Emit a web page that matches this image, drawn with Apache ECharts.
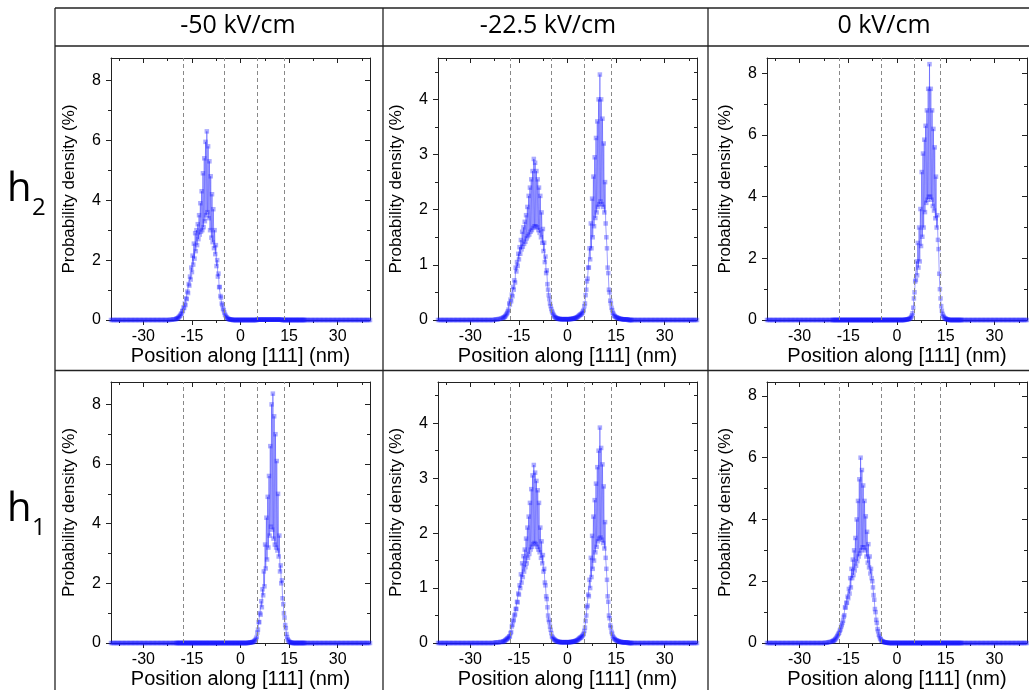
<!DOCTYPE html>
<html><head><meta charset="utf-8">
<script src="https://cdn.jsdelivr.net/npm/echarts@6/dist/echarts.min.js"></script>
<style>html,body{margin:0;padding:0;background:#fff}#c{width:1029px;height:690px}</style>
</head><body><div id="c"></div>
<script>
// Position grid along [111] (nm): 0.4 nm steps in the outer parts, 0.2 nm steps in -20..20
const positions = [
-40,-39.6,-39.2,-38.8,-38.4,-38,-37.6,-37.2,-36.8,-36.4,
-36,-35.6,-35.2,-34.8,-34.4,-34,-33.6,-33.2,-32.8,-32.4,
-32,-31.6,-31.2,-30.8,-30.4,-30,-29.6,-29.2,-28.8,-28.4,
-28,-27.6,-27.2,-26.8,-26.4,-26,-25.6,-25.2,-24.8,-24.4,
-24,-23.6,-23.2,-22.8,-22.4,-22,-21.6,-21.2,-20.8,-20.4,
-20,-19.8,-19.6,-19.4,-19.2,-19,-18.8,-18.6,-18.4,-18.2,
-18,-17.8,-17.6,-17.4,-17.2,-17,-16.8,-16.6,-16.4,-16.2,
-16,-15.8,-15.6,-15.4,-15.2,-15,-14.8,-14.6,-14.4,-14.2,
-14,-13.8,-13.6,-13.4,-13.2,-13,-12.8,-12.6,-12.4,-12.2,
-12,-11.8,-11.6,-11.4,-11.2,-11,-10.8,-10.6,-10.4,-10.2,
-10,-9.8,-9.6,-9.4,-9.2,-9,-8.8,-8.6,-8.4,-8.2,
-8,-7.8,-7.6,-7.4,-7.2,-7,-6.8,-6.6,-6.4,-6.2,
-6,-5.8,-5.6,-5.4,-5.2,-5,-4.8,-4.6,-4.4,-4.2,
-4,-3.8,-3.6,-3.4,-3.2,-3,-2.8,-2.6,-2.4,-2.2,
-2,-1.8,-1.6,-1.4,-1.2,-1,-0.8,-0.6,-0.4,-0.2,
0,0.2,0.4,0.6,0.8,1,1.2,1.4,1.6,1.8,
2,2.2,2.4,2.6,2.8,3,3.2,3.4,3.6,3.8,
4,4.2,4.4,4.6,4.8,5,5.2,5.4,5.6,5.8,
6,6.2,6.4,6.6,6.8,7,7.2,7.4,7.6,7.8,
8,8.2,8.4,8.6,8.8,9,9.2,9.4,9.6,9.8,
10,10.2,10.4,10.6,10.8,11,11.2,11.4,11.6,11.8,
12,12.2,12.4,12.6,12.8,13,13.2,13.4,13.6,13.8,
14,14.2,14.4,14.6,14.8,15,15.2,15.4,15.6,15.8,
16,16.2,16.4,16.6,16.8,17,17.2,17.4,17.6,17.8,
18,18.2,18.4,18.6,18.8,19,19.2,19.4,19.6,19.8,
20,
20.4,20.8,21.2,21.6,22,22.4,22.8,23.2,23.6,24,
24.4,24.8,25.2,25.6,26,26.4,26.8,27.2,27.6,28,
28.4,28.8,29.2,29.6,30,30.4,30.8,31.2,31.6,32,
32.4,32.8,33.2,33.6,34,34.4,34.8,35.2,35.6,36,
36.4,36.8,37.2,37.6,38,38.4,38.8,39.2,39.6,40];

// h2, -50 kV/cm
const h2_m50 = [
0,0,0,0,0,0,0,0,0,0,
0,0,0,0,0,0,0,0,0,0,
0,0,0,0,0,0,0,0,0,0,
0,0,0,0,0,0,0,0,0,0,
0,0,0,0,0,0,0.01,0.01,0.02,0.02,
0.03,0.04,0.05,0.06,0.08,0.1,0.13,0.15,0.2,0.22,
0.3,0.3,0.42,0.4,0.55,0.5,0.72,0.7,0.95,0.9,
1.2,1.15,1.45,1.35,1.75,1.6,2.15,1.85,2.55,2.05,
2.9,2.3,3.0,2.5,3.2,2.7,3.5,2.85,3.9,2.95,
4.3,3.0,4.9,3.1,5.4,3.3,5.95,3.5,6.3,3.6,
5.8,3.4,5.3,3.0,4.8,2.75,4.2,2.6,3.7,2.4,
3.0,2.2,2.5,1.8,2.0,1.45,1.55,1.1,1.1,0.8,
0.75,0.55,0.5,0.38,0.33,0.25,0.18,0.14,0.1,0.08,
0.05,0.04,0.03,0.02,0.02,0.01,0.01,0.01,0,0,
0,0,0,0,0,0,0,0,0,0,
0,0,0,0,0,0,0,0,0,0,
0,0,0,0,0,0,0,0,0,0,
0,0,0,0,0,0,0.01,0.01,0.01,0.01,
0.01,0.01,0.01,0.01,0.01,0.01,0.01,0.01,0.01,0.01,
0.01,0.01,0.01,0.01,0.01,0.01,0.01,0.01,0.01,0.01,
0.01,0.01,0.01,0.01,0.01,0.01,0.01,0.01,0.01,0.01,
0.01,0.01,0.01,0.01,0,0,0,0,0,0,
0,0,0,0,0,0,0,0,0,0,
0,0,0,0,0,0,0,0,0,0,
0,0,0,0,0,0,0,0,0,0,
0,
0,0,0,0,0,0,0,0,0,0,
0,0,0,0,0,0,0,0,0,0,
0,0,0,0,0,0,0,0,0,0,
0,0,0,0,0,0,0,0,0,0,
0,0,0,0,0,0,0,0,0,0];

// h2, -22.5 kV/cm
const h2_m22 = [
0,0,0,0,0,0,0,0,0,0,
0,0,0,0,0,0,0,0,0,0,
0,0,0,0,0,0,0,0,0,0,
0,0,0,0,0,0,0,0,0,0,
0,0,0,0,0.01,0.01,0.01,0.02,0.02,0.03,
0.04,0.04,0.05,0.06,0.07,0.09,0.11,0.13,0.16,0.19,
0.3,0.28,0.37,0.34,0.46,0.43,0.6,0.55,0.72,0.68,
0.95,0.88,1.05,0.98,1.2,1.1,1.32,1.2,1.45,1.28,
1.6,1.33,1.68,1.38,1.78,1.42,1.9,1.48,2.05,1.52,
2.25,1.55,2.4,1.6,2.55,1.63,2.7,1.67,2.92,1.7,
2.85,1.7,2.7,1.68,2.55,1.63,2.4,1.58,2.25,1.5,
1.95,1.4,1.65,1.25,1.4,1.05,1.15,0.85,0.9,0.65,
0.55,0.45,0.38,0.3,0.25,0.2,0.16,0.13,0.1,0.08,
0.06,0.05,0.04,0.035,0.03,0.025,0.02,0.02,0.018,0.016,
0.015,0.015,0.015,0.015,0.015,0.015,0.015,0.015,0.015,0.015,
0.015,0.015,0.015,0.015,0.016,0.018,0.02,0.02,0.022,0.025,
0.028,0.03,0.035,0.04,0.045,0.05,0.06,0.07,0.08,0.09,
0.1,0.1,0.12,0.13,0.16,0.18,0.25,0.3,0.45,0.55,
0.7,0.75,0.95,0.95,1.3,1.1,1.75,1.3,2.2,1.5,
2.6,1.7,2.95,1.85,3.3,1.95,3.6,2.05,4.0,2.1,
4.45,2.15,4.0,2.1,3.65,2.05,3.2,1.95,2.5,1.75,
1.5,1.3,0.95,0.85,0.55,0.5,0.35,0.3,0.22,0.18,
0.13,0.11,0.08,0.07,0.06,0.05,0.045,0.04,0.035,0.03,
0.025,0.02,0.02,0.018,0.015,0.015,0.012,0.01,0.01,0.01,
0.01,0.01,0.01,0.01,0,0,0,0,0,0,
0,
0,0,0,0,0,0,0,0,0,0,
0,0,0,0,0,0,0,0,0,0,
0,0,0,0,0,0,0,0,0,0,
0,0,0,0,0,0,0,0,0,0,
0,0,0,0,0,0,0,0,0,0];

// h2, 0 kV/cm
const h2_0 = [
0,0,0,0,0,0,0,0,0,0,
0,0,0,0,0,0,0,0,0,0,
0,0,0,0,0,0,0,0,0,0,
0,0,0,0,0,0,0,0,0,0,
0,0,0,0,0,0,0,0,0,0,
0,0,0,0,0,0,0,0,0,0,
0,0,0,0,0,0,0,0,0,0,
0,0,0,0,0,0,0,0,0,0,
0,0,0,0,0,0,0,0,0,0,
0,0,0,0,0,0,0,0,0,0,
0,0,0,0,0,0,0,0,0,0,
0,0,0,0,0,0,0,0,0,0,
0,0,0,0,0,0,0,0,0,0,
0,0,0,0,0,0,0,0,0,0,
0,0,0,0,0,0,0,0,0,0,
0,0,0,0,0,0,0,0,0,0,
0,0,0.005,0.01,0.01,0.015,0.02,0.025,0.03,0.04,
0.05,0.07,0.1,0.15,0.22,0.4,0.7,0.9,1.25,1.3,
1.9,1.45,2.5,1.7,3.0,1.9,3.6,2.4,4.8,2.7,
5.4,3.0,5.85,3.5,6.3,3.8,6.8,3.9,7.5,4.0,
8.3,4.0,7.5,3.9,6.8,3.7,6.2,3.55,5.6,3.3,
4.65,3.0,3.4,2.6,2.3,1.5,1.0,0.7,0.45,0.3,
0.2,0.14,0.1,0.07,0.05,0.04,0.03,0.02,0.015,0.01,
0,0,0,0,0,0,0,0,0,0,
0,0,0,0,0,0,0,0,0,0,
0,
0,0,0,0,0,0,0,0,0,0,
0,0,0,0,0,0,0,0,0,0,
0,0,0,0,0,0,0,0,0,0,
0,0,0,0,0,0,0,0,0,0,
0,0,0,0,0,0,0,0,0,0];

// h1, -50 kV/cm
const h1_m50 = [
0,0,0,0,0,0,0,0,0,0,
0,0,0,0,0,0,0,0,0,0,
0,0,0,0,0,0,0,0,0,0,
0,0,0,0,0,0,0,0,0,0,
0,0,0,0,0,0,0,0,0,0,
0,0,0,0,0,0,0,0,0,0,
0,0,0,0,0,0,0,0,0,0,
0,0,0,0,0,0,0,0,0,0,
0,0,0,0,0,0,0,0,0,0,
0,0,0,0,0,0,0,0,0,0,
0,0,0,0,0,0,0,0,0,0,
0,0,0,0,0,0,0,0,0,0,
0,0,0,0,0,0,0,0,0,0,
0,0,0,0,0,0,0,0,0,0,
0,0,0,0,0,0,0,0,0,0,
0,0,0,0,0,0,0,0,0,0,
0,0,0.005,0.01,0.01,0.015,0.02,0.02,0.03,0.03,
0.04,0.06,0.08,0.1,0.14,0.2,0.35,0.45,0.7,0.7,
1.0,0.95,1.4,1.2,1.8,1.6,2.4,1.9,3.3,2.5,
4.2,2.8,4.9,3.2,5.6,3.6,6.6,3.9,8.0,3.8,
8.36,3.5,7.6,3.3,7.0,3.2,6.1,3.1,5.0,2.9,
3.6,2.4,2.6,2.0,2.1,1.5,1.3,1.0,0.85,0.6,
0.5,0.3,0.2,0.12,0.08,0.05,0.03,0.02,0.015,0.01,
0,0,0,0,0,0,0,0,0,0,
0,0,0,0,0,0,0,0,0,0,
0,
0,0,0,0,0,0,0,0,0,0,
0,0,0,0,0,0,0,0,0,0,
0,0,0,0,0,0,0,0,0,0,
0,0,0,0,0,0,0,0,0,0,
0,0,0,0,0,0,0,0,0,0];

// h1, -22.5 kV/cm
const h1_m22 = [
0,0,0,0,0,0,0,0,0,0,
0,0,0,0,0,0,0,0,0,0,
0,0,0,0,0,0,0,0,0,0,
0,0,0,0,0,0,0,0,0,0,
0,0,0,0,0.01,0.01,0.01,0.01,0.02,0.02,
0.02,0.03,0.03,0.04,0.05,0.06,0.07,0.08,0.09,0.1,
0.12,0.12,0.18,0.2,0.3,0.33,0.4,0.42,0.5,0.52,
0.62,0.62,0.75,0.74,0.9,0.88,1.05,1.0,1.25,1.1,
1.45,1.2,1.58,1.3,1.7,1.38,1.9,1.45,2.1,1.55,
2.3,1.62,2.55,1.7,2.8,1.75,3.05,1.8,3.24,1.82,
3.1,1.8,2.95,1.75,2.78,1.7,2.55,1.65,2.1,1.55,
1.85,1.45,1.6,1.3,1.35,1.1,1.05,0.85,0.8,0.65,
0.5,0.42,0.38,0.3,0.24,0.18,0.12,0.1,0.08,0.07,
0.06,0.05,0.04,0.035,0.03,0.025,0.02,0.02,0.018,0.016,
0.015,0.015,0.015,0.015,0.015,0.015,0.015,0.015,0.015,0.015,
0.015,0.015,0.015,0.015,0.016,0.018,0.02,0.02,0.022,0.025,
0.028,0.03,0.035,0.04,0.045,0.05,0.06,0.07,0.08,0.09,
0.1,0.1,0.12,0.13,0.15,0.17,0.22,0.28,0.4,0.5,
0.65,0.68,0.88,0.85,1.15,1.0,1.55,1.2,1.95,1.35,
2.3,1.5,2.6,1.65,2.9,1.75,3.2,1.85,3.5,1.9,
3.92,1.92,3.55,1.88,3.25,1.82,2.85,1.72,2.2,1.55,
1.35,1.15,0.85,0.75,0.5,0.45,0.32,0.28,0.2,0.17,
0.12,0.1,0.08,0.07,0.06,0.05,0.045,0.04,0.035,0.03,
0.025,0.02,0.02,0.018,0.015,0.015,0.012,0.01,0.01,0.01,
0.01,0.01,0.01,0.01,0,0,0,0,0,0,
0,
0,0,0,0,0,0,0,0,0,0,
0,0,0,0,0,0,0,0,0,0,
0,0,0,0,0,0,0,0,0,0,
0,0,0,0,0,0,0,0,0,0,
0,0,0,0,0,0,0,0,0,0];

// h1, 0 kV/cm
const h1_0 = [
0,0,0,0,0,0,0,0,0,0,
0,0,0,0,0,0,0,0,0,0,
0,0,0,0,0,0,0,0,0,0,
0,0,0,0,0,0,0,0,0,0,
0,0,0,0,0,0.01,0.01,0.02,0.03,0.04,
0.05,0.06,0.07,0.08,0.1,0.12,0.15,0.18,0.22,0.26,
0.3,0.33,0.4,0.44,0.52,0.58,0.65,0.72,0.85,0.9,
1.15,1.15,1.3,1.3,1.5,1.45,1.75,1.6,2.1,1.8,
2.4,2.1,2.7,2.2,3.0,2.35,3.4,2.5,4.0,2.65,
4.6,2.8,5.3,2.9,6.0,3.0,5.6,3.1,5.1,3.1,
4.6,3.0,4.1,2.8,3.6,2.6,3.2,2.45,2.8,2.25,
2.4,2.1,2.0,1.8,1.55,1.4,1.1,1.0,0.75,0.65,
0.45,0.38,0.27,0.22,0.15,0.12,0.08,0.06,0.05,0.04,
0.03,0.025,0.02,0.015,0.01,0.01,0.01,0,0,0,
0,0,0,0,0,0,0,0,0,0,
0,0,0,0,0,0,0,0,0,0,
0,0,0,0,0,0,0,0,0,0,
0,0,0,0,0,0,0,0,0,0,
0,0,0,0,0,0,0,0,0,0,
0,0,0,0,0,0,0,0,0,0,
0,0,0,0,0,0,0,0,0,0,
0,0,0,0,0,0,0,0,0,0,
0,0,0,0,0,0,0,0,0,0,
0,0,0,0,0,0,0,0,0,0,
0,0,0,0,0,0,0,0,0,0,
0,
0,0,0,0,0,0,0,0,0,0,
0,0,0,0,0,0,0,0,0,0,
0,0,0,0,0,0,0,0,0,0,
0,0,0,0,0,0,0,0,0,0,
0,0,0,0,0,0,0,0,0,0];

const fieldLabels = ['-50 kV/cm', '-22.5 kV/cm', '0 kV/cm'];
const stateSubscripts = ['2', '1'];
const xMajorTicks = [-30, -15, 0, 15, 30];
const xMinorTicks = [-37.5, -22.5, -7.5, 7.5, 22.5, 37.5];
const yMajorBig = [0, 2, 4, 6, 8];
const yMinorBig = [1, 3, 5, 7];
const yMajorSmall = [0, 1, 2, 3, 4];
const yMinorSmall = [0.5, 1.5, 2.5, 3.5, 4.5];
const dotBoundaries = [-17.7, -5, 5.3, 13.4];
const yAxisTop = [8.75, 4.75, 8.5, 8.75, 4.75, 8.45];
const panelSeries = [h2_m50, h2_m22, h2_0, h1_m50, h1_m22, h1_0];

const chart = echarts.init(document.getElementById('c'), null, {renderer: 'canvas'});
const AX = '#222';
const FF = '"Liberation Sans", Arial, sans-serif';
const HF = '"Open Sans", sans-serif';
const colPos = [{left: 111, width: 259}, {left: 438, width: 259}, {left: 767, width: 260}];
const rowPos = [{top: 58, height: 262}, {top: 382, height: 261}];
const grid = [], xAxis = [], yAxis = [], series = [];

panelSeries.forEach((ys, p) => {
  const r = Math.floor(p / 3), c = p % 3;
  grid.push({left: colPos[c].left, top: rowPos[r].top, width: colPos[c].width, height: rowPos[r].height,
    containLabel: false, outerBoundsMode: 'none', show: false});
  const tickStyle = {color: AX, width: 1};
  const xb = {gridIndex: p, type: 'value', min: -40, max: 40, splitLine: {show: false},
    axisLine: {show: false, onZero: false}, axisLabel: {show: false}, axisTick: {show: false}};
  const xi = xAxis.length;
  xAxis.push(Object.assign({}, xb, {position: 'bottom',
    axisLine: {show: true, onZero: false, lineStyle: {color: AX, width: 1}},
    axisTick: {show: true, inside: false, length: 5, customValues: xMajorTicks, lineStyle: tickStyle},
    axisLabel: {show: true, customValues: xMajorTicks, fontSize: 16, color: '#000', fontFamily: FF, margin: 9},
    name: 'Position along [111] (nm)', nameLocation: 'middle', nameGap: 26,
    nameTextStyle: {fontSize: 20, color: '#000', fontFamily: FF}}));
  xAxis.push(Object.assign({}, xb, {position: 'bottom',
    axisTick: {show: true, inside: false, length: 3, customValues: xMinorTicks, lineStyle: tickStyle}}));
  xAxis.push(Object.assign({}, xb, {position: 'top',
    axisLine: {show: true, onZero: false, lineStyle: {color: AX, width: 1}},
    axisTick: {show: true, inside: true, length: 5, customValues: xMajorTicks, lineStyle: tickStyle}}));
  xAxis.push(Object.assign({}, xb, {position: 'top',
    axisTick: {show: true, inside: true, length: 3, customValues: xMinorTicks, lineStyle: tickStyle}}));

  const big = yAxisTop[p] > 6;
  const yMaj = big ? yMajorBig : yMajorSmall;
  const yMin = big ? yMinorBig : yMinorSmall;
  const yb = {gridIndex: p, type: 'value', min: 0, max: yAxisTop[p], splitLine: {show: false},
    axisLine: {show: false, onZero: false}, axisLabel: {show: false}, axisTick: {show: false}};
  const yi = yAxis.length;
  yAxis.push(Object.assign({}, yb, {position: 'left',
    axisLine: {show: true, onZero: false, lineStyle: {color: AX, width: 1}},
    axisTick: {show: true, inside: false, length: 5, customValues: yMaj, lineStyle: tickStyle},
    axisLabel: {show: true, customValues: yMaj, fontSize: 16, color: '#000', fontFamily: FF, margin: 10},
    name: 'Probability density (%)', nameLocation: 'middle', nameRotate: 90, nameGap: 33,
    nameTextStyle: {fontSize: 17, color: '#000', fontFamily: FF}}));
  yAxis.push(Object.assign({}, yb, {position: 'left',
    axisTick: {show: true, inside: false, length: 3, customValues: yMin, lineStyle: tickStyle}}));
  yAxis.push(Object.assign({}, yb, {position: 'right',
    axisLine: {show: true, onZero: false, lineStyle: {color: AX, width: 1}},
    axisTick: {show: true, inside: true, length: 5, customValues: yMaj, lineStyle: tickStyle}}));
  yAxis.push(Object.assign({}, yb, {position: 'right',
    axisTick: {show: true, inside: true, length: 3, customValues: yMin, lineStyle: tickStyle}}));

  series.push({
    type: 'line', xAxisIndex: xi, yAxisIndex: yi,
    data: positions.map((x, i) => [x, ys[i]]),
    symbol: 'rect', symbolSize: 4.5, clip: false, animation: false,
    lineStyle: {color: 'rgba(60,60,255,0.55)', width: 0.9},
    itemStyle: {color: 'rgba(25,25,255,0.36)'},
    emphasis: {disabled: true},
    markLine: {silent: true, symbol: ['none', 'none'], label: {show: false}, animation: false,
      lineStyle: {type: [4, 3], color: '#888', width: 1},
      data: dotBoundaries.map(v => ({xAxis: v}))}
  });
});

const graphic = [];
const line = (x1, y1, x2, y2) => ({type: 'line', silent: true, shape: {x1, y1, x2, y2},
  style: {stroke: '#222', lineWidth: 1.3}});
graphic.push(line(55, 8, 1029, 8), line(55, 46, 1029, 46), line(55, 370.5, 1029, 370.5),
  line(55, 8, 55, 690), line(383, 8, 383, 690), line(708, 8, 708, 690));
const headerX = [238, 548, 884];
fieldLabels.forEach((t, i) => graphic.push({type: 'text', silent: true,
  style: {text: t, x: headerX[i], y: 26, align: 'center', verticalAlign: 'middle',
    font: '25px ' + HF, fill: '#000'}}));
const rowY = [190, 510];
stateSubscripts.forEach((s, i) => {
  graphic.push({type: 'text', silent: true,
    style: {text: 'h', x: 7, y: rowY[i], align: 'left', verticalAlign: 'middle', font: '40px ' + HF, fill: '#000'}});
  graphic.push({type: 'text', silent: true,
    style: {text: s, x: 32, y: rowY[i] + 18, align: 'left', verticalAlign: 'middle', font: '24px ' + HF, fill: '#000'}});
});

chart.setOption({animation: false, grid, xAxis, yAxis, series, graphic});
</script>
</body></html>
